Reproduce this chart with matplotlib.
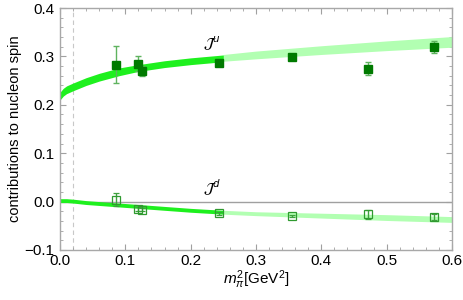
import matplotlib
matplotlib.use("Agg")
import matplotlib.pyplot as plt
import numpy as np
from matplotlib.ticker import MultipleLocator, FuncFormatter

plt.rcParams['font.family'] = ['Liberation Sans', 'DejaVu Sans']
plt.rcParams['mathtext.fontset'] = 'custom'
plt.rcParams['mathtext.rm'] = 'Liberation Sans'
plt.rcParams['mathtext.it'] = 'Liberation Sans:italic'

# Lattice data points
mpi2 = [0.086, 0.119, 0.126, 0.244, 0.355, 0.471, 0.573]
Ju = [0.283, 0.285, 0.270, 0.286, 0.298, 0.275, 0.320]
Ju_err = [0.038, 0.015, 0.010, 0.004, 0.003, 0.014, 0.012]
Jd = [0.004, -0.015, -0.017, -0.024, -0.029, -0.026, -0.032]
Jd_err = [0.014, 0.004, 0.003, 0.003, 0.002, 0.009, 0.006]

# Chiral fit bands: centre and half width
band_x_dark = [0.0, 0.005, 0.01, 0.02, 0.04, 0.06, 0.09, 0.12, 0.16, 0.2, 0.25]
Ju_dark_c = [0.218, 0.226, 0.231, 0.237, 0.248, 0.257, 0.268, 0.276, 0.284, 0.290, 0.296]
Ju_dark_h = [0.008, 0.008, 0.008, 0.008, 0.008, 0.008, 0.008, 0.007, 0.007, 0.007, 0.007]
Jd_dark_c = [0.002, 0.002, 0.002, 0.001, -0.002, -0.004, -0.007, -0.010, -0.014, -0.018, -0.022]
Jd_dark_h = [0.004, 0.004, 0.004, 0.004, 0.004, 0.004, 0.004, 0.004, 0.004, 0.004, 0.004]

band_x_light = [0.25, 0.3, 0.4, 0.5, 0.6]
Ju_light_c = [0.297, 0.303, 0.313, 0.322, 0.330]
Ju_light_h = [0.007, 0.008, 0.009, 0.010, 0.011]
Jd_light_c = [-0.022, -0.025, -0.029, -0.033, -0.037]
Jd_light_h = [0.004, 0.004, 0.005, 0.006, 0.006]

phys_mpi2 = 0.0195

fig = plt.figure(figsize=(4.63, 3.0), dpi=100)
ax = fig.add_axes([0.1296, 0.1667, 0.8467, 0.8066])

dark = "#1ef01e"
light = "#b2ffb2"

def band(x, c, h, color):
    c = np.array(c); h = np.array(h)
    ax.fill_between(x, c - h, c + h, color=color, lw=0, zorder=2)

band(band_x_light, Ju_light_c, Ju_light_h, light)
band(band_x_light, Jd_light_c, Jd_light_h, light)
band(band_x_dark, Ju_dark_c, Ju_dark_h, dark)
band(band_x_dark, Jd_dark_c, Jd_dark_h, dark)

ax.axhline(0, color="#a0a0a0", lw=1.0, zorder=1)
ax.axvline(phys_mpi2, color="#c8c8c8", lw=0.8, ls=(0, (4, 3)), zorder=1)

ax.errorbar(mpi2, Ju, yerr=Ju_err, fmt="s", ms=5.5, color="#007a00",
            ecolor="#5fb35f", elinewidth=1.0, capsize=2, capthick=1.0, zorder=4)
ax.errorbar(mpi2, Jd, yerr=Jd_err, fmt="s", ms=5.5, mfc="none", mec="#2f9a2f",
            mew=0.9, ecolor="#3ea03e", elinewidth=1.0, capsize=2, capthick=1.0, zorder=4)

ax.text(0.232, 0.326, r"$\mathcal{J}^u$", fontsize=10.5, ha="center", va="center",
        math_fontfamily="dejavusans")
ax.text(0.232, 0.028, r"$\mathcal{J}^d$", fontsize=10.5, ha="center", va="center",
        math_fontfamily="dejavusans")

fmt = FuncFormatter(lambda v, p: ("%.1f" % v).replace("-", "\u2212"))
ax.set_xlim(0, 0.6)
ax.set_ylim(-0.1, 0.4)
ax.xaxis.set_major_locator(MultipleLocator(0.1))
ax.xaxis.set_minor_locator(MultipleLocator(0.02))
ax.yaxis.set_major_locator(MultipleLocator(0.1))
ax.yaxis.set_minor_locator(MultipleLocator(0.02))
ax.xaxis.set_major_formatter(fmt)
ax.yaxis.set_major_formatter(fmt)
ax.tick_params(which="both", direction="in", top=True, right=True, color="#a0a0a0",
               labelsize=11)
ax.tick_params(axis="x", pad=3)
ax.tick_params(axis="y", pad=4)
ax.tick_params(which="major", length=4, width=0.8)
ax.tick_params(which="minor", length=2, width=0.6)
for s in ax.spines.values():
    s.set_color("#a8a8a8")
    s.set_linewidth(1.0)

ax.set_xlabel(r"$m_\pi^2$[GeV$^2$]", fontsize=11, labelpad=0)
ax.set_ylabel("contributions to nucleon spin", fontsize=10.5, labelpad=2)

fig.savefig("out.png", dpi=100)
